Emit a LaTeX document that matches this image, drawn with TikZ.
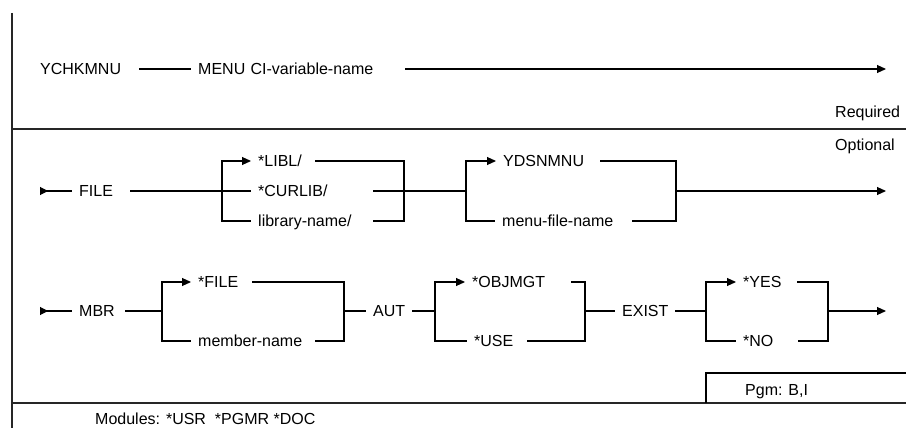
\documentclass[tikz,border=0pt]{standalone}
\usepackage{fontspec}
\setmainfont{Liberation Sans}
\usetikzlibrary{arrows.meta}
\tikzset{
    term/.style = {
        anchor = west,
        inner xsep = 7pt,
        inner ysep = 1pt,
        text height = 11.5pt,
        text depth = 0pt,
        align = left,
        font = \fontsize{16}{19}\selectfont,
        },
    note/.style = {
        anchor = west,
        inner sep = 0pt,
        text height = 11.5pt,
        text depth = 0pt,
        font = \fontsize{16}{19}\selectfont,
        },
    rail/.style = {
        draw = black,
        line width = 1.1pt,
        },
    rail in/.style = {
        rail,
        {Triangle[reversed, length=8pt, width=8pt]}-,
        },
    rail out/.style = {
        rail,
        -{Triangle[length=9pt, width=8pt]},
        },
    frame/.style = {
        draw = black!85,
        line width = 1.6pt,
        },
}

\begin{document}
\begin{tikzpicture}[x=1pt, y=-1pt]
    \useasboundingbox (0,0) rectangle (906,428);

    % frame
    \draw[frame] (12,13) -- (12,428);
    \draw[frame] (12,129) -- (906,129);
    \draw[frame] (12,403) -- (906,403);
    \draw[rail] (706,403) -- (706,373) -- (906,373);

    % required part
    \node[term, text width=92pt] (ychk) at (33,69) {YCHKMNU};
    \node[term, text width=200pt] (menu) at (191,69) {MENU CI-variable-name};
    \coordinate (end1) at (886,69);
    \draw[rail] (ychk.east) -- (menu.west);
    \draw[rail out] (menu.east) -- (end1);

    \node[note] (req) at (835,112) {Required};
    \node[note] (opt) at (835,145) {Optional};

    % FILE
    \coordinate (s2) at (40,191);
    \coordinate (a2) at (222,191);
    \coordinate (b2) at (404,191);
    \coordinate (c2) at (466,191);
    \coordinate (d2) at (676,191);
    \coordinate (end2) at (886,191);
    \node[term, text width=44pt] (file) at (72,191) {FILE};
    \node[term, text width=50pt] (libl) at (251,161) {*LIBL/};
    \node[term, text width=108pt] (curlib) at (251,191) {*CURLIB/};
    \node[term, text width=108pt] (lib) at (251,221) {library-name/};
    \node[term, text width=90pt] (ydsn) at (496,161) {YDSNMNU};
    \node[term, text width=123pt] (mfn) at (495,221) {menu-file-name};

    \draw[rail in] (s2) -- (file.west);
    \draw[rail] (file.east) -- (curlib.west);
    \draw[rail out] (a2) |- (libl.west);
    \draw[rail] (a2) |- (lib.west);
    \draw[rail] (libl.east) -| (b2) |- (lib.east);
    \draw[rail] (curlib.east) -- (c2);
    \draw[rail out] (c2) |- (ydsn.west);
    \draw[rail] (c2) |- (mfn.west);
    \draw[rail] (ydsn.east) -| (d2) |- (mfn.east);
    \draw[rail out] (d2) -- (end2);

    % MBR, AUT, EXIST
    \coordinate (s3) at (40,311);
    \coordinate (e3) at (162,311);
    \coordinate (f3) at (344,311);
    \coordinate (g3) at (435,311);
    \coordinate (h3) at (585,311);
    \coordinate (k3) at (706,311);
    \coordinate (m3) at (828,311);
    \coordinate (end3) at (886,311);
    \node[term, text width=39pt] (mbr) at (72,311) {MBR};
    \node[term, text width=47pt] (sfile) at (191,282) {*FILE};
    \node[term, text width=110pt] (mem) at (191,341) {member-name};
    \node[term, text width=32pt] (aut) at (366,311) {AUT};
    \node[term, text width=92pt] (objmgt) at (465,282) {*OBJMGT};
    \node[term, text width=46pt] (use) at (467,341) {*USE};
    \node[term, text width=46pt] (exist) at (615,311) {EXIST};
    \node[term, text width=47pt] (yes) at (736,282) {*YES};
    \node[term, text width=48pt] (no) at (736,341) {*NO};

    \draw[rail in] (s3) -- (mbr.west);
    \draw[rail] (mbr.east) -- (e3);
    \draw[rail out] (e3) |- (sfile.west);
    \draw[rail] (e3) |- (mem.west);
    \draw[rail] (sfile.east) -| (f3) |- (mem.east);
    \draw[rail] (f3) -- (aut.west);
    \draw[rail] (aut.east) -- (g3);
    \draw[rail out] (g3) |- (objmgt.west);
    \draw[rail] (g3) |- (use.west);
    \draw[rail] (objmgt.east) -| (h3) |- (use.east);
    \draw[rail] (h3) -- (exist.west);
    \draw[rail] (exist.east) -- (k3);
    \draw[rail out] (k3) |- (yes.west);
    \draw[rail] (k3) |- (no.west);
    \draw[rail] (yes.east) -| (m3) |- (no.east);
    \draw[rail out] (m3) -- (end3);

    % footer
    \node[note] (pgm) at (745,390) {Pgm: B,I};
    \node[note] (mods) at (95,419) {Modules: *USR\ \ *PGMR *DOC};
\end{tikzpicture}
\end{document}
